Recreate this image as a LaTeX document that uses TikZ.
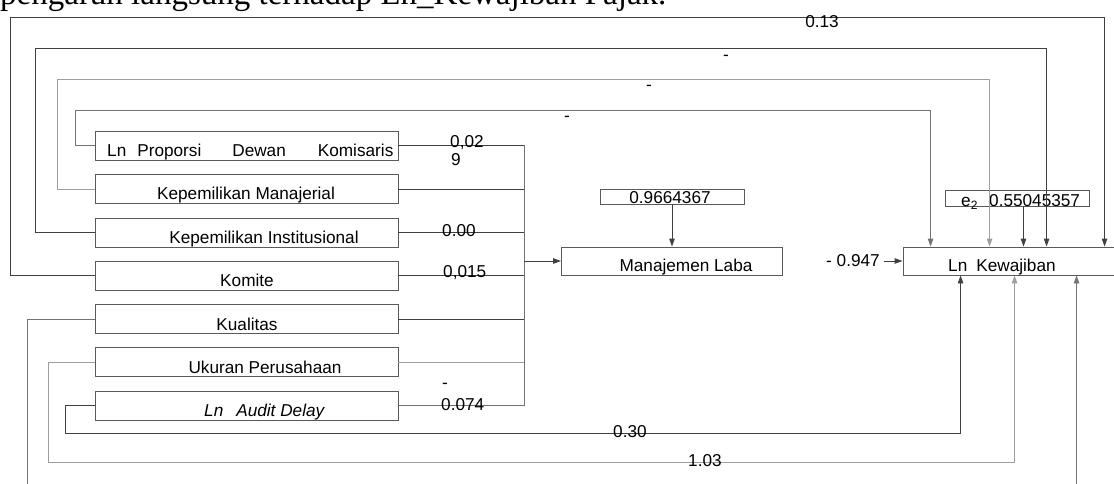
\documentclass[tikz,border=0pt]{standalone}
\usepackage{fontspec}
\setmainfont{Liberation Serif}
\setsansfont{Liberation Sans}
\usetikzlibrary{arrows.meta,calc}
\begin{document}
\begin{tikzpicture}[x=1pt,y=-1pt,
  dk/.style={draw=black!75, line width=0.9pt},
  md/.style={draw=black!55, line width=0.9pt},
  lt/.style={draw=black!38, line width=0.9pt},
  box/.style={draw=black!65, line width=0.9pt, minimum width=303pt, minimum height=29pt, inner sep=0pt},
  sbox/.style={draw=black!65, line width=0.9pt, inner sep=0pt},
  txt/.style={font=\sffamily\fontsize{17.2}{20}\selectfont, inner sep=0pt, anchor=base},
  arr/.style={-{Triangle[length=8pt,width=5.5pt]}},
]
\useasboundingbox (0,0) rectangle (1114,484);

% title (cut at the top, as in the reference)
\node[font=\fontsize{33}{38}\selectfont, anchor=base west, inner sep=0pt] (title) at (0,5) {pengaruh langsung terhadap Ln\_Kewajiban Pajak.};

% left boxes
\node[box] (b1) at (246.5,145.5) {};
\node[box] (b2) at (246.5,189) {};
\node[box] (b3) at (246.5,232.5) {};
\node[box] (b4) at (246.5,275.5) {};
\node[box] (b5) at (246.5,319) {};
\node[box] (b6) at (246.5,362) {};
\node[box] (b7) at (246.5,405.5) {};

\node[txt, anchor=base west] (t1) at (107,156.5) {Ln\hspace{11pt}Proporsi\hspace{31pt}Dewan\hspace{32pt}Komisaris};
\node[txt] (t2) at (246,200) {Kepemilikan Manajerial};
\node[txt] (t3) at (264,243.5) {Kepemilikan Institusional};
\node[txt] (t4) at (247,286.5) {Komite};
\node[txt] (t5) at (247,330) {Kualitas};
\node[txt] (t6) at (265,373) {Ukuran Perusahaan};
\node[txt, anchor=base west] (t7) at (204,416.5) {\itshape Ln\hspace{13pt}Audit Delay};

% middle and right boxes
\node[sbox, minimum width=221pt, minimum height=28pt] (ml) at (672,261) {};
\node[txt] (tml) at (686,271) {Manajemen Laba};
\node[sbox, minimum width=144pt, minimum height=15pt] (r1) at (672,196.5) {};
\node[txt] (tr1) at (670,204) {0.9664367};

\node[sbox, minimum width=222pt, minimum height=28pt] (kew) at (1014,261) {};
\node[txt, anchor=base west] (tkew) at (948,271) {Ln\hspace{9pt}Kewajiban};
\node[sbox, minimum width=144pt, minimum height=16pt] (e2) at (1017,198) {};
\node[txt, anchor=base west] (te2) at (961,207) {e\textsubscript{2}};
\node[txt, anchor=base west] (tr2) at (989,207) {0.55045357};

% loops over the top to Ln Kewajiban
\draw[dk,arr] (b4.west) -| (10,17) -| ([xshift=202pt]kew.north west);
\draw[dk,arr] (b3.west) -| (35,48) -| ([xshift=144pt]kew.north west);
\draw[lt,arr] (b2.west) -| (57,79) -| ([xshift=87pt]kew.north west);
\draw[md,arr] (b1.west) -| (75,110) -| ([xshift=28pt]kew.north west);

% bus to Manajemen Laba
\coordinate (bt) at (524,145.5);
\draw[md] (bt) -- (bt |- b7.east);
\draw[dk] (b1.east) -- (bt);
\draw[dk] (b2.east) -- (b2.east -| bt);
\draw[dk] (b3.east) -- (b3.east -| bt);
\draw[dk] (b4.east) -- (b4.east -| bt);
\draw[dk] (b5.east) -- (b5.east -| bt);
\draw[lt] (b6.east) -- (b6.east -| bt);
\draw[md] (b7.east) -- (b7.east -| bt);
\draw[dk,arr] (ml.west -| bt) -- (ml.west);

% residual arrows
\draw[dk,arr] (r1.south) -- (ml.north);
\draw[dk,arr] ([xshift=6.5pt]e2.south) -- ([xshift=6.5pt]e2.south |- kew.north);

% loops below to Ln Kewajiban
\draw[dk,arr] (b7.west) -| (65,433) -| ([xshift=58pt]kew.south west);
\draw[lt,arr] (b6.west) -| (48,462) -| ([xshift=112pt]kew.south west);
\draw[md,arr] (b5.west) -| (27,500) -| ([xshift=174pt]kew.south west);

% labels
\node[txt] (l013) at (822,27.5) {0.13};
\node[txt] (ld1) at (726,61) {-};
\node[txt] (ld2) at (649,91) {-};
\node[txt] (ld3) at (567,122) {-};
\node[txt, anchor=base west] (l002a) at (450,148) {0,02};
\node[txt, anchor=base west] (l002b) at (451,165) {9};
\node[txt, anchor=base west] (l000) at (442,236) {0.00};
\node[txt, anchor=base west] (l015) at (443,277) {0,015};
\node[txt, anchor=base west] (l074a) at (442,388) {-};
\node[txt, anchor=base west] (l074b) at (441,410) {0.074};
\node[txt, anchor=base west] (l030) at (613,437) {0.30};
\node[txt, anchor=base west] (l103) at (688,466) {1.03};
\node[txt, anchor=base west] (l0947) at (826,266) {- 0.947};
\draw[dk,arr] ([xshift=4pt]kew.west -| l0947.east) -- (kew.west);
\end{tikzpicture}
\end{document}
